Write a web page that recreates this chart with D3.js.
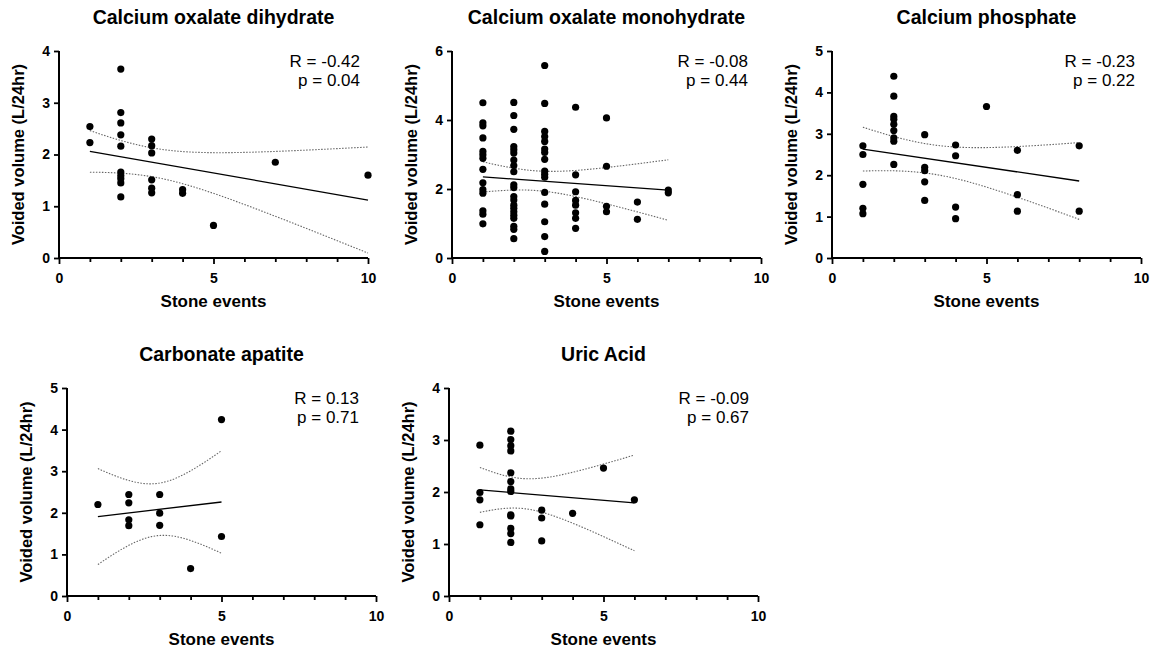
<!DOCTYPE html>
<html>
<head>
<meta charset="utf-8">
<script src="https://cdn.jsdelivr.net/npm/d3@7"></script>
<style>
  body { margin: 0; background: #fff; }
  svg { display: block; font-family: "Liberation Sans", Arial, sans-serif; }
</style>
</head>
<body>
<svg id="chart" width="1151" height="652"></svg>
<script>
// panel titles, stats text, axis maxima
const titles = ["Calcium oxalate dihydrate", "Calcium oxalate monohydrate", "Calcium phosphate", "Carbonate apatite", "Uric Acid"]
const rLabels = ["R = -0.42", "R = -0.08", "R = -0.23", "R = 0.13", "R = -0.09"]
const pLabels = ["p = 0.04", "p = 0.44", "p = 0.22", "p = 0.71", "p = 0.67"]
const yMax = [4, 6, 5, 5, 4]
const yStep = [1, 2, 1, 1, 1]
const xTicks = [0, 5, 10]

// fitted lines (many points overlap, so the visible dots under-count)
const fitIntercept = [2.164, 2.413, 2.74, 1.8225, 2.09]
const fitSlope = [-0.1044, -0.0633, -0.11, 0.0875, -0.05]

// stone events (x) and voided volumes (y) grouped by event count
const codEvents = [1, 2, 3, 4, 5, 7, 10]
const codVolumes = [
    [2.54, 2.23],
    [3.65, 2.81, 2.61, 2.38, 2.16, 1.66, 1.59, 1.53, 1.45, 1.18],
    [2.30, 2.17, 2.03, 1.51, 1.35, 1.26],
    [1.32, 1.25],
    [0.63],
    [1.85],
    [1.60]
]
const comEvents = [1, 2, 3, 4, 5, 6, 7]
const comVolumes = [
    [4.50, 3.92, 3.83, 3.48, 3.09, 2.99, 2.89, 2.57, 2.18, 1.98, 1.88, 1.37, 1.27, 0.99],
    [4.51, 4.13, 3.73, 3.23, 3.14, 3.04, 2.84, 2.68, 2.50, 2.12, 2.04, 1.78, 1.68, 1.53, 1.44, 1.34, 1.24, 1.15, 0.92, 0.83, 0.56],
    [5.58, 4.48, 3.67, 3.52, 3.38, 3.16, 3.06, 2.86, 2.52, 2.43, 2.34, 1.90, 1.56, 1.05, 0.62, 0.19],
    [4.37, 2.41, 1.92, 1.67, 1.53, 1.31, 1.15, 0.86],
    [4.06, 2.66, 1.50, 1.34],
    [1.62, 1.12],
    [1.97, 1.89]
]
const cpEvents = [1, 2, 3, 4, 5, 6, 8]
const cpVolumes = [
    [2.71, 2.50, 1.78, 1.20, 1.07],
    [4.39, 3.91, 3.42, 3.35, 3.23, 3.08, 2.90, 2.82, 2.26],
    [2.98, 2.19, 2.11, 1.84, 1.39],
    [2.73, 2.47, 1.23, 0.95],
    [3.66],
    [2.60, 1.53, 1.13],
    [2.71, 1.13]
]
const caEvents = [1, 2, 3, 4, 5]
const caVolumes = [
    [2.20],
    [2.44, 2.24, 1.83, 1.69],
    [2.44, 1.99, 1.70],
    [0.66],
    [4.24, 1.43]
]
const uaEvents = [1, 2, 3, 4, 5, 6]
const uaVolumes = [
    [2.90, 1.99, 1.85, 1.37],
    [3.17, 3.01, 2.89, 2.79, 2.37, 2.20, 2.06, 2.01, 1.56, 1.54, 1.30, 1.20, 1.03],
    [1.65, 1.50, 1.06],
    [1.59],
    [2.46],
    [1.85]
]

const groups = [
    [codEvents, codVolumes], [comEvents, comVolumes], [cpEvents, cpVolumes],
    [caEvents, caVolumes], [uaEvents, uaVolumes]
]

// plot boxes: left, top, width, height, and where the stats text sits
const boxes = [
    {left: 59, top: 51, w: 309, h: 207, statX: 360},
    {left: 452, top: 51, w: 309, h: 207, statX: 748},
    {left: 832, top: 51, w: 309, h: 207, statX: 1135},
    {left: 67, top: 388, w: 309, h: 208, statX: 359},
    {left: 449, top: 388, w: 309, h: 208, statX: 749}
]

// two-sided 95% t critical value (Cornish-Fisher expansion)
function tCrit(df) {
    const z = 1.959964
    const g1 = (Math.pow(z, 3) + z) / 4
    const g2 = (5 * Math.pow(z, 5) + 16 * Math.pow(z, 3) + 3 * z) / 96
    const g3 = (3 * Math.pow(z, 7) + 19 * Math.pow(z, 5) + 17 * Math.pow(z, 3) - 15 * z) / 384
    const g4 = (79 * Math.pow(z, 9) + 776 * Math.pow(z, 7) + 1482 * Math.pow(z, 5) - 1920 * Math.pow(z, 3) - 945 * z) / 92160
    return z + g1 / df + g2 / df ** 2 + g3 / df ** 3 + g4 / df ** 4
}

// confidence band of the mean around a given line
function band(points, a, b) {
    const n = points.length
    const mx = d3.mean(points, d => d.x)
    const sxx = d3.sum(points, d => (d.x - mx) ** 2)
    const sse = d3.sum(points, d => (d.y - a - b * d.x) ** 2)
    const s = Math.sqrt(sse / (n - 2))
    const t = tCrit(n - 2)
    return x => t * s * Math.sqrt(1 / n + (x - mx) ** 2 / sxx)
}

const svg = d3.select("#chart")

groups.forEach(function(g, i) {
    const box = boxes[i]
    const points = []
    g[0].forEach((ev, j) => g[1][j].forEach(v => points.push({x: ev, y: v})))

    const x = d3.scaleLinear().domain([0, 10]).range([box.left, box.left + box.w])
    const y = d3.scaleLinear().domain([0, yMax[i]]).range([box.top + box.h, box.top])

    const panel = svg.append("g")

    // x axis: minor ticks each event, longer at labelled ticks
    const xAxis = panel.append("g").attr("transform", `translate(0,${box.top + box.h})`)
        .call(d3.axisBottom(x).tickValues(d3.range(0, 11)).tickSize(4).tickFormat(""))
    xAxis.selectAll(".tick line").filter(d => xTicks.includes(d)).attr("y2", 6)
    xAxis.select(".domain").attr("d", `M${box.left},0H${box.left + box.w}`)
    xAxis.selectAll(".tick").filter(d => xTicks.includes(d)).append("text")
        .attr("y", 25).attr("fill", "#000").attr("text-anchor", "middle")
        .style("font-size", "14px").style("font-weight", "bold")
        .text(d => d)

    const yAxis = panel.append("g").attr("transform", `translate(${box.left},0)`)
        .call(d3.axisLeft(y).tickValues(d3.range(0, yMax[i] + 1, yStep[i]))
            .tickFormat(d3.format("d")).tickSize(5).tickPadding(4))
    yAxis.selectAll("text").style("font-size", "14px").style("font-weight", "bold").attr("fill", "#000")
    yAxis.select(".domain").attr("d", `M0,${box.top}V${box.top + box.h}`)

    panel.selectAll(".domain, .tick line").attr("stroke", "#000").attr("stroke-width", 2)
    panel.selectAll("g.tick line").attr("stroke-width", 1.8)

    // regression line and 95% band
    const a = fitIntercept[i], b = fitSlope[i]
    const fitAt = v => a + b * v
    const half = band(points, a, b)
    const xmin = d3.min(points, d => d.x), xmax = d3.max(points, d => d.x)
    const xs = d3.range(0, 61).map(k => xmin + (xmax - xmin) * k / 60)
    const line = d3.line().x(d => x(d[0])).y(d => y(d[1]))
    panel.append("path").attr("d", line(xs.map(v => [v, fitAt(v) + half(v)])))
        .attr("fill", "none").attr("stroke", "#666").attr("stroke-width", 1.1).attr("stroke-dasharray", "1.5,1.5")
    panel.append("path").attr("d", line(xs.map(v => [v, fitAt(v) - half(v)])))
        .attr("fill", "none").attr("stroke", "#666").attr("stroke-width", 1.1).attr("stroke-dasharray", "1.5,1.5")
    panel.append("path").attr("d", line([[xmin, fitAt(xmin)], [xmax, fitAt(xmax)]]))
        .attr("fill", "none").attr("stroke", "#000").attr("stroke-width", 1.3)

    panel.selectAll("circle").data(points).enter().append("circle")
        .attr("cx", d => x(d.x)).attr("cy", d => y(d.y)).attr("r", 3.6).attr("fill", "#000")

    // texts
    const cx = box.left + box.w / 2
    panel.append("text").attr("x", cx).attr("y", box.top - 27).attr("text-anchor", "middle")
        .style("font-size", "19.5px").style("font-weight", "bold").text(titles[i])
    panel.append("text").attr("x", cx).attr("y", box.top + box.h + 49).attr("text-anchor", "middle")
        .style("font-size", "17px").style("font-weight", "bold").text("Stone events")
    panel.append("text")
        .attr("transform", `translate(${box.left - 35},${box.top + box.h / 2}) rotate(-90)`)
        .attr("text-anchor", "middle").style("font-size", "16.5px").style("font-weight", "bold")
        .text("Voided volume (L/24hr)")
    panel.append("text").attr("x", box.statX).attr("y", box.top + 16).attr("text-anchor", "end")
        .style("font-size", "17px").text(rLabels[i])
    panel.append("text").attr("x", box.statX).attr("y", box.top + 35).attr("text-anchor", "end")
        .style("font-size", "17px").text(pLabels[i])
})
</script>
</body>
</html>
